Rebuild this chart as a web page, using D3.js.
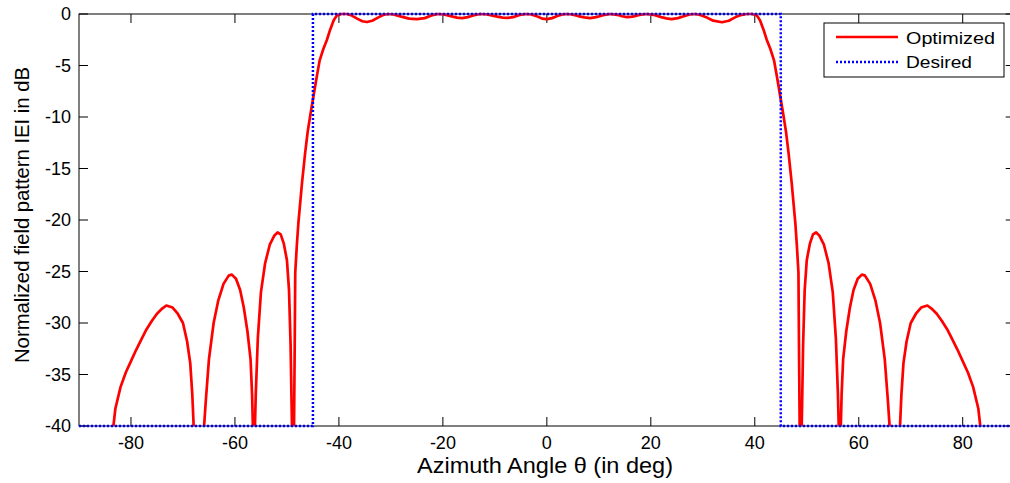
<!DOCTYPE html>
<html lang="en">
<head>
  <meta charset="UTF-8" />
  <title>Normalized field pattern</title>
  <script src="https://cdn.jsdelivr.net/npm/d3@7"></script>
  <style>
    body { margin: 0; background: #fff; }
    svg { font-family: "Liberation Sans", Arial, sans-serif; }
    .frame { fill: none; stroke: #000; stroke-width: 1px; }
    .tick-mark { stroke: #000; stroke-width: 1px; }
    .tick-label { font-size: 18px; fill: #000; }
    .opt-line { fill: none; stroke: #ff0000; stroke-width: 2.7px; stroke-linejoin: round; }
    .des-line { fill: none; stroke: #0000ff; stroke-width: 2.5px; stroke-dasharray: 2, 2; }
  </style>
</head>
<body>
<script>
  // angle (deg) of each sample of the optimized pattern
  var optAngle = [
    -90, -86, -83.6, -83.0, -82, -81, -80, -79, -78, -77, -76, -75, -74, -73.2, -72, -71, -70, -69.2, -68.6, -68.2, -67.9,
    -67.0, -66.0, -65.6, -65.0, -64.1, -63.2, -62.2, -61.2, -60.6, -59.8, -59.0, -58.3, -57.6, -57.0, -56.7, -56.5,
    -56.4, -56.2, -56.0, -55.6, -55.0, -54.2, -53.3, -52.4, -51.8, -51.2, -50.6, -50.0, -49.6, -49.3, -49.1, -48.95,
    -48.8, -48.65, -48.5, -48.4, -48.1, -47.8, -47.1, -46.5, -46, -45.5, -45, -44.3, -43.7, -43, -42.3, -41.7, -41,
    -40.4, -39.5, -38.5, -37.5, -36.5, -35.5, -34.6, -33.6, -32.5, -31.5, -30.5, -29.5, -28, -26.5, -25, -23.5,
    -22.2, -21, -19.8, -18.5, -17.3, -16.3, -15.2, -14, -12.8, -11.5, -10, -8.5, -7.6, -6.5, -5.2, -4, -3, -1.8, -0.9,
    0,
    1, 2, 3, 3.8, 4.8, 6, 7.2, 8.3, 9.5, 10.8, 12.2, 13.5, 14.5, 15.4, 16.5, 17.8, 19.2, 20.5, 22, 23, 24, 25.2, 26.5,
    27.5, 28.5, 29.5, 30.8, 32, 33.7, 35, 36.3, 37.5, 38.5,
    39.5, 40.4, 41, 41.7, 42.3, 43, 43.7, 44.3, 45, 45.5, 46, 46.5, 47.1, 47.8, 48.1, 48.4, 48.5, 48.65, 48.8, 48.95,
    49.1, 49.3, 49.6, 50.0, 50.6, 51.2, 51.8, 52.4, 53.3, 54.2, 55.0, 55.6, 56.0, 56.2, 56.4, 56.5, 56.7, 57.0, 57.6,
    58.3, 59.0, 59.8, 60.6, 61.2, 62.2, 63.2, 64.1, 65.0, 65.6, 66.0, 67.0, 67.9, 68.2, 68.6, 69.2, 70, 71, 72, 73.2,
    74, 75, 76, 77, 78, 79, 80, 81, 82, 83, 83.6, 86, 90
  ];
  var optDb = [
    -48, -45, -41, -38.3, -36.2, -34.8, -33.7, -32.6, -31.6, -30.6, -29.8, -29.1, -28.6, -28.3, -28.5, -29.1, -30.0, -31.8, -33.9, -37, -40.5,
    -50, -40.5, -37.5, -33.5, -30, -27.8, -26.2, -25.4, -25.3, -25.7, -26.8, -28.5, -30.8, -33.5, -37, -41,
    -55, -41, -37, -31.5, -27, -24.2, -22.4, -21.5, -21.2, -21.4, -22.3, -23.9, -26.8, -32, -38, -42,
    -55, -41, -32, -25.1, -22.5, -20.3, -16.4, -13.5, -11.4, -9.8, -8.3, -6.2, -4.5, -3.4, -2.5, -1.55, -0.6,
    -0.15, 0, 0, -0.15, -0.45, -0.7, -0.78, -0.65, -0.35, -0.1, 0, -0.05, -0.25, -0.45, -0.5, -0.4,
    -0.15, 0, -0.05, -0.2, -0.35, -0.4, -0.3, -0.12, 0, -0.05, -0.2, -0.35, -0.38, -0.3, -0.1, 0, -0.05, -0.25, -0.45,
    -0.5,
    -0.4, -0.2, -0.05, 0, -0.05, -0.2, -0.33, -0.4, -0.3, -0.12, 0, -0.08, -0.22, -0.3, -0.25, -0.08, 0, -0.08, -0.3, -0.42, -0.5, -0.4, -0.2,
    -0.05, 0, -0.1, -0.35, -0.65, -0.8, -0.65, -0.3, -0.08, 0,
    0, -0.15, -0.6, -1.55, -2.5, -3.4, -4.5, -6.2, -8.3, -9.8, -11.4, -13.5, -16.4, -20.3, -22.5, -25.1, -32, -41, -55, -42,
    -38, -32, -26.8, -23.9, -22.3, -21.4, -21.2, -21.5, -22.4, -24.2, -27, -31.5, -37, -41, -55, -41, -37, -33.5, -30.8,
    -28.5, -26.8, -25.7, -25.3, -25.4, -26.2, -27.8, -30, -33.5, -37.5, -40.5, -50, -40.5, -37, -33.9, -31.8, -30.0, -29.1, -28.5, -28.3,
    -28.6, -29.1, -29.8, -30.6, -31.6, -32.6, -33.7, -34.8, -36.2, -38.3, -41, -45, -48
  ];

  // desired mask
  var desAngle = [-90, -45, -45, 45, 45, 90];
  var desDb = [-40, -40, 0, 0, -40, -40];

  var xTicks = [-80, -60, -40, -20, 0, 20, 40, 60, 80];
  var yTicks = [0, -5, -10, -15, -20, -25, -30, -35, -40];

  var w = 1010;
  var h = 483;
  var margin = { top: 14, left: 79, bottom: 57 };
  var plotW = 935.7;
  var plotH = h - margin.top - margin.bottom;
  var tickLen = 9;

  var svg = d3.select("body").append("svg")
    .attr("width", w)
    .attr("height", h);

  var xScale = d3.scaleLinear().domain([-90, 90]).range([0, plotW]);
  var yScale = d3.scaleLinear().domain([-40, 0]).range([plotH, 0]);

  svg.append("defs").append("clipPath")
    .attr("id", "plot-clip")
    .append("rect")
    .attr("x", 0).attr("y", -3)
    .attr("width", plotW).attr("height", plotH + 3);

  var g = svg.append("g")
    .attr("transform", "translate(" + margin.left + "," + margin.top + ")");

  // frame
  g.append("rect")
    .attr("class", "frame")
    .attr("x", 0).attr("y", 0)
    .attr("width", plotW).attr("height", plotH);

  // ticks pointing inward, MATLAB style
  xTicks.forEach(function(t) {
    g.append("line").attr("class", "tick-mark")
      .attr("x1", xScale(t)).attr("x2", xScale(t))
      .attr("y1", 0).attr("y2", tickLen);
    g.append("line").attr("class", "tick-mark")
      .attr("x1", xScale(t)).attr("x2", xScale(t))
      .attr("y1", plotH).attr("y2", plotH - tickLen);
    g.append("text").attr("class", "tick-label")
      .attr("x", xScale(t)).attr("y", plotH + 23)
      .attr("text-anchor", "middle")
      .text(t);
  });

  yTicks.forEach(function(t) {
    g.append("line").attr("class", "tick-mark")
      .attr("x1", 0).attr("x2", tickLen)
      .attr("y1", yScale(t)).attr("y2", yScale(t));
    g.append("line").attr("class", "tick-mark")
      .attr("x1", plotW).attr("x2", plotW - tickLen)
      .attr("y1", yScale(t)).attr("y2", yScale(t));
    g.append("text").attr("class", "tick-label")
      .attr("x", -8).attr("y", yScale(t) + 6)
      .attr("text-anchor", "end")
      .text(t);
  });

  var line = d3.line()
    .x(function(d) { return xScale(d[0]); })
    .y(function(d) { return yScale(d[1]); });

  var optData = optAngle.map(function(a, i) { return [a, optDb[i]]; });
  var desData = desAngle.map(function(a, i) { return [a, desDb[i]]; });

  g.append("path")
    .datum(optData)
    .attr("class", "opt-line")
    .attr("clip-path", "url(#plot-clip)")
    .attr("d", line);

  g.append("path")
    .datum(desData)
    .attr("class", "des-line")
    .attr("d", line);

  // axis labels
  svg.append("text")
    .attr("x", 545).attr("y", 473)
    .attr("text-anchor", "middle")
    .style("font-size", "22px")
    .attr("textLength", 256)
    .attr("lengthAdjust", "spacingAndGlyphs")
    .text("Azimuth Angle \u03b8 (in deg)");

  svg.append("text")
    .attr("transform", "translate(29,215) rotate(-90)")
    .attr("text-anchor", "middle")
    .style("font-size", "20px")
    .attr("textLength", 296)
    .attr("lengthAdjust", "spacingAndGlyphs")
    .text("Normalized field pattern IEI in dB");

  // legend
  var lg = svg.append("g").attr("transform", "translate(824,23)");
  lg.append("rect")
    .attr("width", 180).attr("height", 54)
    .attr("fill", "#fff").attr("stroke", "#000").attr("stroke-width", 1);
  lg.append("line").attr("class", "opt-line")
    .attr("x1", 12).attr("x2", 74).attr("y1", 14).attr("y2", 14);
  lg.append("line").attr("class", "des-line")
    .attr("x1", 12).attr("x2", 74).attr("y1", 39).attr("y2", 39);
  lg.append("text").attr("x", 82).attr("y", 21)
    .style("font-size", "17px")
    .attr("textLength", 89).attr("lengthAdjust", "spacingAndGlyphs")
    .text("Optimized");
  lg.append("text").attr("x", 82).attr("y", 45)
    .style("font-size", "17px")
    .attr("textLength", 66).attr("lengthAdjust", "spacingAndGlyphs")
    .text("Desired");
</script>
</body>
</html>
